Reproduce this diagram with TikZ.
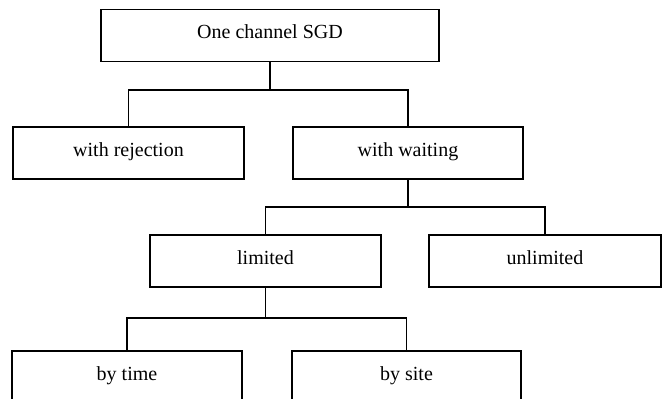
\documentclass[tikz,border=0pt]{standalone}
\usepackage{fontspec}
\setmainfont{Liberation Serif}
\begin{document}
\begin{tikzpicture}[x=1pt,y=-1pt,
  box/.style={draw, line width=1.3pt, rectangle, inner sep=0pt,
    text height=29pt, text depth=23pt, font=\fontsize{20}{24}\selectfont},
  link/.style={line width=1.3pt}]
  \path[use as bounding box, clip] (0,0) rectangle (667,399);

  % boxes
  \node[box, minimum width=338pt] (top)  at (270,35.5)   {One channel SGD};
  \node[box, minimum width=231pt] (rej)  at (128.5,153)  {with rejection};
  \node[box, minimum width=230pt] (wait) at (408,153)    {with waiting};
  \node[box, minimum width=231pt] (lim)  at (265.5,261)  {limited};
  \node[box, minimum width=232pt] (unl)  at (545,261)    {unlimited};
  \node[box, minimum width=230pt] (time) at (127,377)    {by time};
  \node[box, minimum width=229pt] (site) at (406.5,377)  {by site};

  % branch points
  \coordinate (j1) at (270,90);
  \coordinate (j2) at (408,207);
  \coordinate (j3) at (265.5,318);

  % tree connectors
  \draw[link] (top.south) -- (j1);
  \draw[link] (rej.north) |- (j1) -| (wait.north);
  \draw[link] (wait.south) -- (j2);
  \draw[link] (lim.north) |- (j2) -| (unl.north);
  \draw[link] (lim.south) -- (j3);
  \draw[link] (time.north) |- (j3) -| (site.north);
\end{tikzpicture}
\end{document}
